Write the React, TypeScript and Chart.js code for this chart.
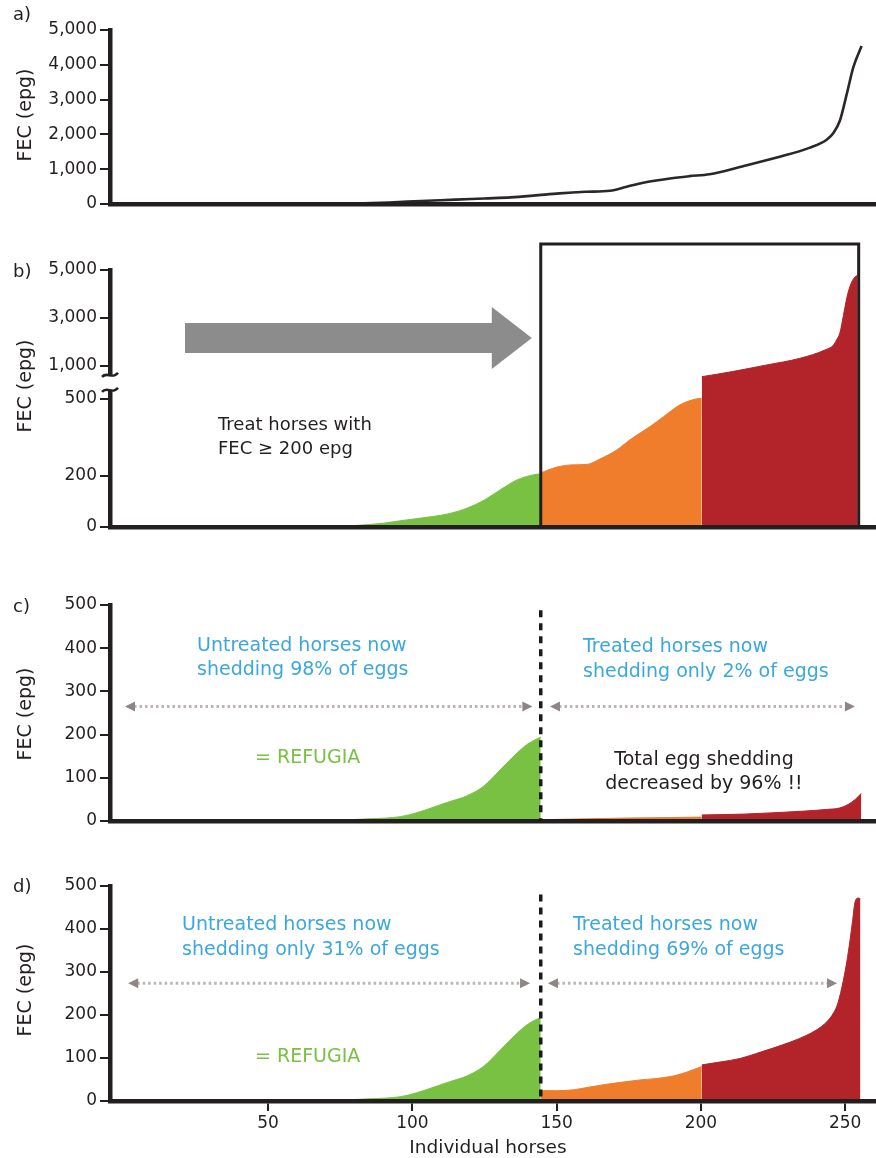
import React, { useEffect, useRef } from 'react';
import { Chart, registerables } from 'chart.js';
Chart.register(...registerables);

const FONT = '"DejaVu Sans", sans-serif';
const INK = '#231f20';
const BLUE = '#3aa7de';
const GREEN = '#79c143';
const ORANGE = '#f07d2b';
const RED = '#b2232a';
const ARROW_GREY = '#8c8c8c';

const X_MIN = -4.8;
const X_MAX = 260.7;
const THRESHOLD_HORSE = 144.5;
const X_TICKS = [50, 100, 150, 200, 250];

// ---- panel a: FEC of all horses, sorted ----
const aHorse = [-4.8, 66, 80, 92, 103, 115, 125, 134, 142, 151, 160, 168.5, 174.3, 180, 189.3, 196, 203, 214.6, 226.3, 237.8, 243.6, 246, 248.2, 250.6, 252.8, 255.7];
const aFec = [0, 0, 15, 45, 86, 125, 160, 190, 240, 306, 350, 380, 495, 610, 734, 800, 857, 1086, 1334, 1620, 1848, 2050, 2400, 3170, 3920, 4540];
const aTicks = [0, 1000, 2000, 3000, 4000, 5000];

// ---- panel b: broken axis, coloured groups ----
const bGreenHorse = [68, 80, 90, 96, 107, 113, 119, 125, 130.4, 136.2, 141.9, 144.5];
const bGreenFec = [0, 5, 14, 24, 40, 52, 73, 105, 144, 183, 203, 207];
const bOrangeHorse = [144.5, 147, 151, 155, 160.5, 165, 170.8, 176, 182.4, 187, 192.8, 198.6, 200.3];
const bOrangeFec = [210, 222, 236, 242, 244, 265, 300, 345, 392, 430, 477, 502, 508];
const bRedHorse = [200.3, 211, 222.8, 234.4, 243, 246, 247, 248.2, 249.4, 250.6, 251.5, 252.5, 253.5, 254.3];
const bRedFec = [837, 915, 1040, 1320, 1665, 1875, 2080, 2380, 3100, 3850, 4250, 4550, 4720, 4780];
const bTickValues = [0, 200, 500, 1000, 3000, 5000];

// ---- panels c & d: untreated refugia ----
const refugiaHorse = [62, 75, 85, 95.8, 101.5, 107.3, 113, 118.8, 124.6, 130.4, 136.2, 139.5, 141.9, 144.5];
const refugiaFec = [0, 2, 5, 10, 19, 32, 45, 58, 80, 118, 157, 176, 186, 194];

// ---- panel c: treated, 98% efficacy ----
const cOrangeHorse = [144.5, 160, 175, 190, 200.3];
const cOrangeFec = [3, 5, 7, 8, 9];
const cRedHorse = [200.3, 215, 225, 236, 244, 248, 251, 253.5, 255.6];
const cRedFec = [14, 16, 19, 23, 27, 30, 38, 50, 64];

// ---- panel d: treated, reduced efficacy ----
const dOrangeHorse = [144.5, 150, 155.8, 161, 167.4, 173, 178.9, 184, 190.4, 195, 200.3];
const dOrangeFec = [24, 24, 26, 32, 39, 44, 49, 52, 58, 67, 80];
const dRedHorse = [200.3, 207, 213.6, 219, 225, 231, 236.7, 240, 243.6, 246, 247.5, 249.4, 250.6, 251.7, 252.6, 253.4, 254.6, 255.3];
const dRedFec = [84, 91, 99, 110, 123, 137, 153, 165, 184, 205, 228, 281, 325, 374, 420, 462, 472, 470];
const lowTicks = [0, 100, 200, 300, 400, 500];

// broken axis transform for panel b
const BREAK_LOW = 500;
const BREAK_HIGH = 1000;
const BREAK_GAP = 129;
const UPPER_RATIO = 0.09375;
function brokenT(v: number): number {
  if (v <= BREAK_LOW) return v;
  if (v < BREAK_HIGH) return BREAK_LOW + ((v - BREAK_LOW) / (BREAK_HIGH - BREAK_LOW)) * BREAK_GAP;
  return BREAK_LOW + BREAK_GAP + (v - BREAK_HIGH) * UPPER_RATIO;
}

function pts(xs: number[], ys: number[], f?: (v: number) => number) {
  return xs.map((x, i) => ({ x, y: f ? f(ys[i]) : ys[i] }));
}

function area(xs: number[], ys: number[], color: string, f?: (v: number) => number) {
  return {
    data: pts(xs, ys, f),
    fill: 'origin',
    backgroundColor: color,
    borderColor: color,
    borderWidth: 1,
    pointRadius: 0,
    cubicInterpolationMode: 'monotone',
  };
}

function text(ctx: CanvasRenderingContext2D, s: string, x: number, y: number, color: string, size: number, align: CanvasTextAlign = 'left') {
  ctx.save();
  ctx.font = `${size}px ${FONT}`;
  ctx.fillStyle = color;
  ctx.textAlign = align;
  ctx.textBaseline = 'middle';
  ctx.fillText(s, x, y);
  ctx.restore();
}

function yTitle(ctx: CanvasRenderingContext2D, cx: number, cy: number) {
  ctx.save();
  ctx.translate(cx, cy);
  ctx.rotate(-Math.PI / 2);
  text(ctx, 'FEC (epg)', 0, 0, INK, 19, 'center');
  ctx.restore();
}

function dottedArrow(ctx: CanvasRenderingContext2D, x1: number, x2: number, y: number) {
  ctx.save();
  ctx.strokeStyle = '#bcb4b4';
  ctx.lineWidth = 3;
  ctx.setLineDash([2.5, 3]);
  ctx.beginPath();
  ctx.moveTo(x1 + 9, y);
  ctx.lineTo(x2 - 9, y);
  ctx.stroke();
  ctx.setLineDash([]);
  ctx.fillStyle = '#8e8585';
  ctx.beginPath();
  ctx.moveTo(x1, y);
  ctx.lineTo(x1 + 10, y - 5);
  ctx.lineTo(x1 + 10, y + 5);
  ctx.closePath();
  ctx.fill();
  ctx.beginPath();
  ctx.moveTo(x2, y);
  ctx.lineTo(x2 - 10, y - 5);
  ctx.lineTo(x2 - 10, y + 5);
  ctx.closePath();
  ctx.fill();
  ctx.restore();
}

function dashedThreshold(chart: any, topValue: number) {
  const ctx = chart.ctx as CanvasRenderingContext2D;
  const x = chart.scales.x.getPixelForValue(THRESHOLD_HORSE);
  const y1 = chart.scales.y.getPixelForValue(topValue);
  const y2 = chart.scales.y.getPixelForValue(0);
  ctx.save();
  ctx.strokeStyle = '#1a1a1a';
  ctx.lineWidth = 3.5;
  ctx.setLineDash([7, 6]);
  ctx.beginPath();
  ctx.moveTo(x, y1);
  ctx.lineTo(x, y2);
  ctx.stroke();
  ctx.restore();
}

type Spec = {
  top: number;
  height: number;
  padTop: number;
  padBottom: number;
  yMax: number;
  yTickValues: number[];
  yTickLabels: string[];
  yTickMap?: (v: number) => number;
  showX: boolean;
  xAxisHeight: number;
  datasets: any[];
  draw: (chart: any, ctx: CanvasRenderingContext2D, top: number) => void;
};

function buildConfig(spec: Spec): any {
  const tickFont = { family: FONT, size: 17 };
  return {
    type: 'line',
    data: { datasets: spec.datasets },
    options: {
      animation: false,
      responsive: false,
      events: [],
      layout: { padding: { top: spec.padTop, bottom: spec.padBottom, left: 0, right: 0 } },
      plugins: { legend: { display: false }, tooltip: { enabled: false } },
      scales: {
        x: {
          type: 'linear',
          min: X_MIN,
          max: X_MAX,
          grid: { display: spec.showX, drawOnChartArea: false, drawTicks: spec.showX, tickLength: 10, color: INK, lineWidth: 2 },
          border: { display: true, color: INK, width: 4.5, z: 1 },
          ticks: { display: spec.showX, font: tickFont, color: INK, padding: 2, autoSkip: false, maxRotation: 0 },
          afterBuildTicks: (s: any) => {
            s.ticks = X_TICKS.map((v) => ({ value: v }));
          },
          afterFit: (s: any) => {
            s.height = spec.xAxisHeight;
          },
        },
        y: {
          type: 'linear',
          min: 0,
          max: spec.yMax,
          grid: { drawOnChartArea: false, drawTicks: true, tickLength: 10, color: INK, lineWidth: 2 },
          border: { display: true, color: INK, width: 4.5, z: 1 },
          ticks: {
            font: tickFont,
            color: INK,
            padding: 3,
            autoSkip: false,
            callback: (_v: any, i: number) => spec.yTickLabels[i],
          },
          afterBuildTicks: (s: any) => {
            s.ticks = spec.yTickValues.map((v) => ({ value: spec.yTickMap ? spec.yTickMap(v) : v }));
          },
          afterFit: (s: any) => {
            s.width = 110;
          },
        },
      },
    },
    plugins: [
      {
        id: 'annot',
        afterDraw: (chart: any) => spec.draw(chart, chart.ctx, spec.top),
      },
    ],
  };
}

const fmt = (v: number) => v.toLocaleString('en-US');

const specA: Spec = {
  top: 0,
  height: 222,
  padTop: 30,
  padBottom: 18,
  yMax: 5000,
  yTickValues: aTicks,
  yTickLabels: aTicks.map(fmt),
  showX: false,
  xAxisHeight: 0,
  datasets: [
    {
      data: pts(aHorse, aFec),
      fill: false,
      borderColor: '#2b2627',
      borderWidth: 2.6,
      pointRadius: 0,
      cubicInterpolationMode: 'monotone',
    },
  ],
  draw: (chart, ctx, top) => {
    text(ctx, 'a)', 13, 15 - top, INK, 18);
    yTitle(ctx, 26, 115 - top);
  },
};

const specB: Spec = {
  top: 230,
  height: 310,
  padTop: 40,
  padBottom: 13,
  yMax: brokenT(5000),
  yTickValues: bTickValues,
  yTickLabels: bTickValues.map(fmt),
  yTickMap: brokenT,
  showX: false,
  xAxisHeight: 0,
  datasets: [
    area(bGreenHorse, bGreenFec, GREEN, brokenT),
    area(bOrangeHorse, bOrangeFec, ORANGE, brokenT),
    area(bRedHorse, bRedFec, RED, brokenT),
  ],
  draw: (chart, ctx, top) => {
    const xs = chart.scales.x;
    const ys = chart.scales.y;
    text(ctx, 'b)', 13, 272 - top, INK, 18);
    yTitle(ctx, 26, 386 - top);
    // axis break
    const yHi = ys.getPixelForValue(brokenT(1000)) + 9;
    const yLo = ys.getPixelForValue(brokenT(500)) - 9;
    const ax = chart.chartArea.left;
    ctx.save();
    ctx.fillStyle = '#ffffff';
    ctx.fillRect(ax - 4, yHi, 8, yLo - yHi);
    ctx.strokeStyle = INK;
    ctx.lineWidth = 2.5;
    for (const yy of [yHi, yLo]) {
      ctx.beginPath();
      ctx.moveTo(ax - 8, yy + 2);
      ctx.bezierCurveTo(ax - 3, yy - 4, ax + 2, yy + 5, ax + 8, yy - 2);
      ctx.stroke();
    }
    ctx.restore();
    // grey arrow
    const ax1 = xs.getPixelForValue(21.2);
    const ax2 = xs.getPixelForValue(141.4);
    const ay = ys.getPixelForValue(brokenT(2160));
    ctx.save();
    ctx.fillStyle = ARROW_GREY;
    ctx.beginPath();
    ctx.moveTo(ax1, ay - 15);
    ctx.lineTo(ax2 - 40, ay - 15);
    ctx.lineTo(ax2 - 40, ay - 31);
    ctx.lineTo(ax2, ay);
    ctx.lineTo(ax2 - 40, ay + 31);
    ctx.lineTo(ax2 - 40, ay + 15);
    ctx.lineTo(ax1, ay + 15);
    ctx.closePath();
    ctx.fill();
    ctx.restore();
    // box around treated horses
    const rx1 = xs.getPixelForValue(THRESHOLD_HORSE);
    const rx2 = xs.getPixelForValue(254.7);
    const ry1 = chart.chartArea.top - 26;
    const ry2 = ys.getPixelForValue(0);
    ctx.save();
    ctx.strokeStyle = INK;
    ctx.lineWidth = 3;
    ctx.beginPath();
    ctx.moveTo(rx1, ry2);
    ctx.lineTo(rx1, ry1);
    ctx.lineTo(rx2, ry1);
    ctx.lineTo(rx2, ry2);
    ctx.stroke();
    ctx.restore();
    text(ctx, 'Treat horses with', 218, 425 - top, INK, 18);
    text(ctx, 'FEC \u2265 200 epg', 218, 449 - top, INK, 18);
  },
};

const specC: Spec = {
  top: 585,
  height: 255,
  padTop: 20,
  padBottom: 19,
  yMax: 500,
  yTickValues: lowTicks,
  yTickLabels: lowTicks.map(fmt),
  showX: false,
  xAxisHeight: 0,
  datasets: [
    area(refugiaHorse, refugiaFec, GREEN),
    area(cOrangeHorse, cOrangeFec, ORANGE),
    area(cRedHorse, cRedFec, RED),
  ],
  draw: (chart, ctx, top) => {
    const xs = chart.scales.x;
    const ys = chart.scales.y;
    text(ctx, 'c)', 13, 607 - top, INK, 18);
    yTitle(ctx, 26, 714 - top);
    dashedThreshold(chart, 488);
    const ay = ys.getPixelForValue(265);
    dottedArrow(ctx, xs.getPixelForValue(0.4), xs.getPixelForValue(141.6), ay);
    dottedArrow(ctx, xs.getPixelForValue(147.7), xs.getPixelForValue(253.4), ay);
    text(ctx, 'Untreated horses now', 197, 646 - top, BLUE, 19);
    text(ctx, 'shedding 98% of eggs', 197, 670 - top, BLUE, 19);
    text(ctx, 'Treated horses now', 583, 647 - top, BLUE, 19);
    text(ctx, 'shedding only 2% of eggs', 583, 672 - top, BLUE, 19);
    text(ctx, '= REFUGIA', 255, 758 - top, GREEN, 19);
    text(ctx, 'Total egg shedding', 704, 760 - top, INK, 19, 'center');
    text(ctx, 'decreased by 96% !!', 704, 784 - top, INK, 19, 'center');
  },
};

const specD: Spec = {
  top: 868,
  height: 290,
  padTop: 18,
  padBottom: 0,
  yMax: 500,
  yTickValues: lowTicks,
  yTickLabels: lowTicks.map(fmt),
  showX: true,
  xAxisHeight: 57,
  datasets: [
    area(refugiaHorse, refugiaFec, GREEN),
    area(dOrangeHorse, dOrangeFec, ORANGE),
    area(dRedHorse, dRedFec, RED),
  ],
  draw: (chart, ctx, top) => {
    const xs = chart.scales.x;
    const ys = chart.scales.y;
    text(ctx, 'd)', 13, 887 - top, INK, 18);
    yTitle(ctx, 26, 990 - top);
    dashedThreshold(chart, 480);
    const ay = ys.getPixelForValue(274);
    dottedArrow(ctx, xs.getPixelForValue(1.5), xs.getPixelForValue(140.8), ay);
    dottedArrow(ctx, xs.getPixelForValue(147), xs.getPixelForValue(247.2), ay);
    text(ctx, 'Untreated horses now', 182, 925 - top, BLUE, 19);
    text(ctx, 'shedding only 31% of eggs', 182, 950 - top, BLUE, 19);
    text(ctx, 'Treated horses now', 573, 925 - top, BLUE, 19);
    text(ctx, 'shedding 69% of eggs', 573, 950 - top, BLUE, 19);
    text(ctx, '= REFUGIA', 255, 1057 - top, GREEN, 19);
    text(ctx, 'Individual horses', 488, 1148 - top, INK, 18.5, 'center');
  },
};

function Panel({ spec }: { spec: Spec }) {
  const ref = useRef<HTMLCanvasElement>(null);
  useEffect(() => {
    const chart = new Chart(ref.current as HTMLCanvasElement, buildConfig(spec));
    return () => chart.destroy();
  }, []);
  return (
    <canvas
      ref={ref}
      width={876}
      height={spec.height}
      style={{ position: 'absolute', left: 0, top: spec.top, width: 876, height: spec.height, display: 'block' }}
    />
  );
}

export default function App() {
  Chart.defaults.font.family = FONT;
  return (
    <div style={{ position: 'absolute', left: 0, top: 0, width: 876, height: 1158, background: '#ffffff', overflow: 'hidden' }}>
      <Panel spec={specA} />
      <Panel spec={specB} />
      <Panel spec={specC} />
      <Panel spec={specD} />
    </div>
  );
}
